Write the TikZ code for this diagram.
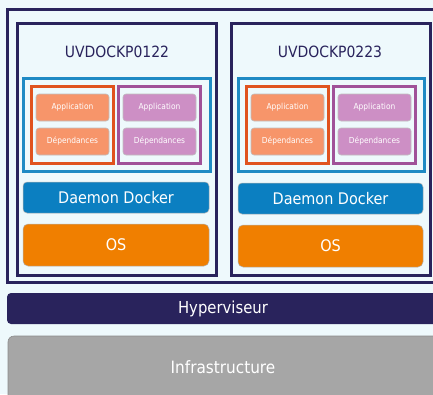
\documentclass[tikz,border=0pt]{standalone}
\usepackage{fontspec}
\setmainfont{DejaVu Sans Condensed}
\definecolor{bg}{HTML}{EEF9FC}
\definecolor{navy}{HTML}{29235C}
\definecolor{dblue}{HTML}{0B7FC1}
\definecolor{cblue}{HTML}{1F8AC4}
\definecolor{osor}{HTML}{F07F00}
\definecolor{oframe}{HTML}{E0531E}
\definecolor{pframe}{HTML}{A05199}
\definecolor{ofill}{HTML}{F7956A}
\definecolor{pfill}{HTML}{CD8FC5}
\definecolor{infra}{HTML}{A6A6A6}
\tikzset{
  nw/.style={anchor=north west, inner sep=0pt, outer sep=0pt},
  frame/.style={nw, draw=navy, line width=2.6pt},
  cont/.style={nw, draw=cblue, line width=2.6pt},
  oframebox/.style={nw, draw=oframe, line width=3pt},
  pframebox/.style={nw, draw=pframe, line width=3pt},
  app/.style={nw, draw=black!25, line width=0.6pt, rounded corners=3pt, text=white, font=\fontsize{8.3}{10}\selectfont, minimum width=73pt, minimum height=27pt},
  appo/.style={app, fill=ofill},
  appp/.style={app, fill=pfill},
  daemon/.style={nw, fill=dblue, draw=black!30, line width=0.5pt, rounded corners=4pt, text=white, font=\fontsize{16}{18}\selectfont, minimum height=31pt},
  osbox/.style={nw, fill=osor, draw=black!30, line width=0.5pt, rounded corners=5pt, text=white, font=\fontsize{16}{18}\selectfont, minimum height=42pt},
  title/.style={text=navy, font=\fontsize{15.5}{18}\selectfont, inner sep=0pt},
}
\begin{document}
\begin{tikzpicture}[x=1pt,y=-1pt]
\useasboundingbox (0,0) rectangle (433,394);
\fill[bg] (0,0) rectangle (433,394);
% outer host box
\node[frame, minimum width=440pt, minimum height=273pt] (host) at (7.5,9.5) {};
% VM 1
\node[frame, minimum width=199pt, minimum height=252pt] (vm1) at (17.5,23.5) {};
\node[title] (t1) at (117,52) {UVDOCKP0122};
\node[cont, minimum width=187pt, minimum height=93pt] (c1) at (23.5,78.5) {};
\node[oframebox, minimum width=82pt, minimum height=77pt] (o1) at (31.5,86) {};
\node[pframebox, minimum width=82pt, minimum height=77pt] (p1) at (118.5,86) {};
\node[appo] (a1) at (36,94) {Application};
\node[appo] (d1) at (36,128) {Dépendances};
\node[appp] (a2) at (123,94) {Application};
\node[appp] (d2) at (123,128) {Dépendances};
\node[daemon, minimum width=186pt] (dd1) at (23,182) {Daemon Docker};
\node[osbox, minimum width=186pt] (os1) at (23,224) {OS};
% VM 2
\node[frame, minimum width=199pt, minimum height=252pt] (vm2) at (231.5,23.5) {};
\node[title] (t2) at (330,52) {UVDOCKP0223};
\node[cont, minimum width=186pt, minimum height=93pt] (c2) at (238.5,78.5) {};
\node[oframebox, minimum width=82pt, minimum height=77pt] (o2) at (246.5,86) {};
\node[pframebox, minimum width=82pt, minimum height=77pt] (p2) at (333.5,86) {};
\node[appo] (a3) at (251,94) {Application};
\node[appo] (d3) at (251,128) {Dépendances};
\node[appp] (a4) at (338,94) {Application};
\node[appp] (d4) at (338,128) {Dépendances};
\node[daemon, minimum width=185pt] (dd2) at (238,183) {Daemon Docker};
\node[osbox, minimum width=185pt] (os2) at (238,225) {OS};
% Hyperviseur and Infrastructure
\node[nw, fill=navy, rounded corners=4pt, minimum width=440pt, minimum height=31pt] (hyp) at (7,293) {};
\node[text=white, font=\fontsize{16.5}{18}\selectfont] (hypt) at (223,308.5) {Hyperviseur};
\node[nw, fill=infra, draw=black!45, line width=0.6pt, rounded corners=6pt, minimum width=440pt, minimum height=70pt] (inf) at (8,336) {};
\node[text=white, font=\fontsize{17}{19}\selectfont] (inft) at (223,367) {Infrastructure};
\end{tikzpicture}
\end{document}
